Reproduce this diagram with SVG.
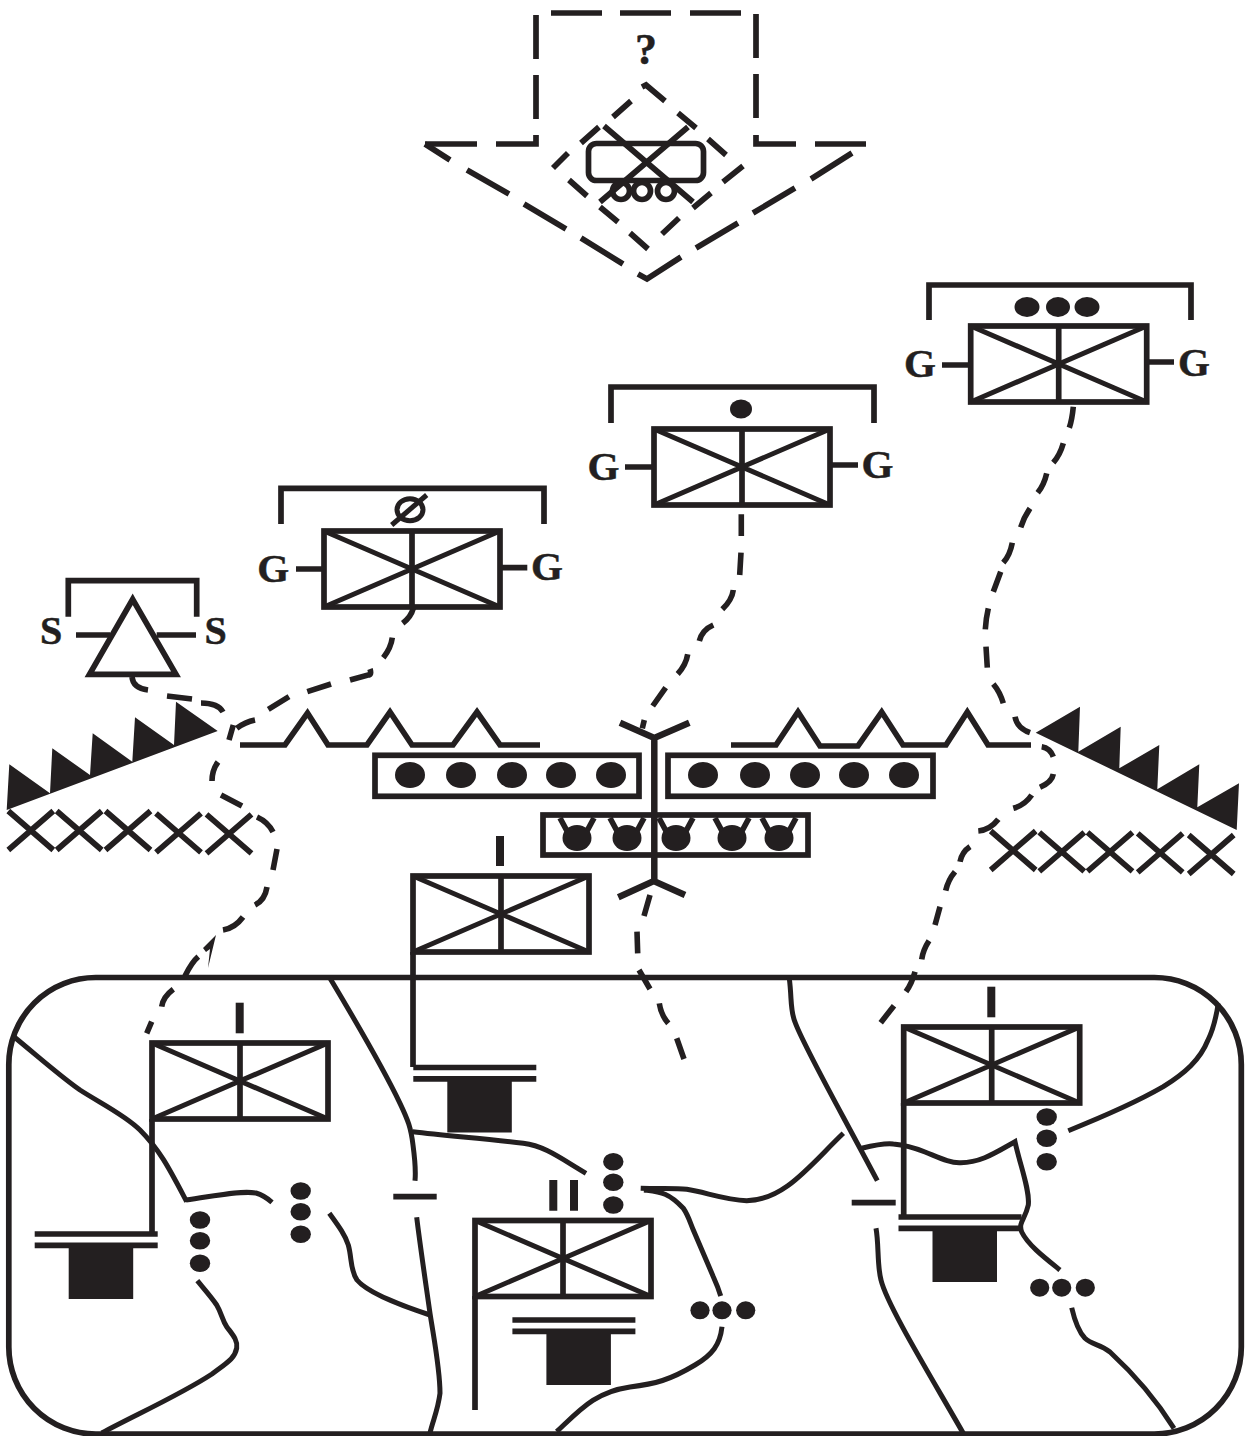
<svg xmlns="http://www.w3.org/2000/svg" width="1246" height="1436" viewBox="0 0 1246 1436">
<style>
.l{fill:none;stroke:#231f20;stroke-width:5.7}
.r{fill:none;stroke:#231f20;stroke-width:5}
.t{fill:none;stroke:#231f20;stroke-width:5}
.e{fill:none;stroke:#231f20;stroke-width:8}
.d{fill:none;stroke:#231f20;stroke-width:5.6}
.f{fill:#231f20}
.x{font-family:"Liberation Serif",serif;font-weight:700;fill:#231f20;stroke:#231f20;stroke-width:.5;text-anchor:middle}
</style>
<defs>
<g id="u"><path class="t" d="M0 0L176 76M176 0L0 76"/><path class="l" d="M88 0V76"/><rect class="l" x="0" y="0" width="176" height="76"/></g>
<g id="hq"><path class="l" d="M0 0H123M0 11.3H123"/><rect class="f" x="34" y="11" width="64.5" height="54"/></g>
<ellipse id="b" class="f" cx="0" cy="0" rx="15" ry="13"/>
<g id="cb"><ellipse class="f" cx="0" cy="4" rx="14.5" ry="13"/><path class="l" d="M-17 -16L-10 -3M17 -16L10 -3"/></g>
<path id="xx" class="l" d="M0 0L45 39M45 0L0 39"/>
<ellipse id="e" class="f" cx="0" cy="0" rx="10.2" ry="8.8"/>
<ellipse id="o" class="f" cx="0" cy="0" rx="9.6" ry="9"/>
</defs>
<g id="connectors">
<path class="d" d="M1073.3 406.700Q1072 420 1069.300 427.700M1063.300 443.300Q1060 455 1053.300 462.700M1046.700 473.300Q1044 485 1037.700 492.700M1030 508.300Q1024 517 1020.700 527.300M1012.300 542.700Q1010 555 1003.300 562.700M1000.700 571.700L993.300 591.700M988.300 608.300Q986 618 985.300 629.300M986 646.700L987.300 667.700M993.300 684Q1000 692 1003.300 703.300M1015 716.700Q1017 728 1030 732.700M1041.700 746.700Q1050 748 1053.300 756.700M1053.300 774Q1052 782 1040 787.300M1031.700 795Q1025 805 1013.300 808.300M998.300 819.300Q990 830 978.300 831M970 846.700Q962 852 960 861.700M955 871.700Q948 880 945.700 890.700M940 906.700L935 925M929 940.700Q923 950 921.700 959.300M915 971.700Q912 983 906 991.700M894 1005.700L880.700 1022.700"/>
<path class="d" d="M741.300 514.300V536M741 552.700L739.700 575M733.300 590Q732 600 722.300 609.300M713.300 625Q702 630 699.300 641M687.700 654.300Q686 665 677.700 674M665.700 687.700L652.700 706M644.300 720L642.300 728.300"/>
<path class="d" d="M413.300 608.300Q411 617 402.700 623.300M392.300 637.700Q391 648 383.300 657.700M370 669Q372 675 368 675L350 680M331 684L307.300 691.700M289 696.700L268.300 709.300M255 720Q245 722 236.700 728.300M233.300 725L229 740M218 762Q212 770 212 781M221 795L242 806M257 817Q268 822 273 832M277 849L273 870M267 887Q265 900 255 905M243 917Q235 928 223 930M198.300 956.700Q192 962 185 976M173.300 989.300Q163 997 161.700 1006.700M151.700 1021.700L146.700 1033.300"/>
<path class="f" d="M216 935L203 948L206 952L210 949L208 968Z"/>
<path class="d" d="M132 677Q133 688 148 690M167 696L192 699M201 703Q218 703 223 712"/>
<path class="d" d="M650 895L644 916M637 931.700L637.700 953.300M639 970L650 989M659.300 1003.300Q661 1015 668.300 1023.300M676.700 1038.300L684 1059"/>
</g>
<g id="target">
<path class="l" d="M551 13H602M620 13H671M690 13H741M536 15V59M536 75V119M536 135V144H496M477 144H425M756 14V58M756 74V118M756 135V144H796M815 144H866"/>
<path class="l" d="M425 144L450 160M467 170L509 194M524 204L566 229M581 238L623 264M638 274L647 279L681 257M696 248L738 223M753 213L795 188M811 179L852 153"/>
<path class="l" d="M642 87L646 85L665 101M678 113L696 128M708 139L726 155M743 166L723 182M711 193L693 208M679 218L662 234M648 249L630 233M618 222L600 207M587 196L569 180M553 168L568 153M581 143L599 127M613 117L631 101"/>
<rect class="l" x="588.500" y="143.500" width="115" height="37" rx="8"/>
<path class="l" d="M604 126L693 202M688 127L600 202"/>
<circle class="l" cx="621" cy="191" r="8.500"/><circle class="l" cx="642" cy="191" r="8.500"/><circle class="l" cx="666" cy="191" r="8.500"/>
<text class="x" x="646" y="64" font-size="44">?</text>
</g>
<g id="unit-top-right">
<path class="l" d="M929 320V285H1191V320"/><use href="#u" x="970.700" y="326"/>
<ellipse class="f" cx="1027" cy="307" rx="12.500" ry="10"/><ellipse class="f" cx="1058" cy="307" rx="12" ry="10"/><ellipse class="f" cx="1087" cy="307" rx="12.500" ry="10"/>
<path class="l" d="M942 365H970M1147 362H1174"/>
<text class="x" x="920" y="377" font-size="41">G</text><text class="x" x="1194" y="376" font-size="41">G</text>
</g>
<g id="unit-middle">
<path class="l" d="M611 423V387H874V423"/><use href="#u" x="654" y="429"/>
<ellipse class="f" cx="741" cy="409" rx="11" ry="9.500"/>
<path class="l" d="M625 467H654M830 465H858"/>
<text class="x" x="603.500" y="480" font-size="41">G</text><text class="x" x="877.500" y="478" font-size="41">G</text>
</g>
<g id="unit-left">
<path class="l" d="M281 524V488.300H544V524"/><use href="#u" x="324" y="531"/>
<ellipse class="r" cx="410" cy="509.700" rx="13" ry="11"/><path class="t" d="M391.700 525L426.700 495"/>
<path class="l" d="M296 569H322M502 567.700H527.300"/>
<text class="x" x="273.300" y="581.500" font-size="41">G</text><text class="x" x="547" y="580" font-size="41">G</text>
</g>
<g id="unit-triangle">
<path class="l" d="M68.300 616.700V580.700H196.700V616.700"/>
<path class="l" d="M132.700 599.300L176 674.300H89.500Z"/>
<path class="l" d="M76 635H110M156.700 635H196"/>
<text class="x" x="51" y="643.500" font-size="40">S</text><text class="x" x="215.500" y="643.500" font-size="40">S</text>
</g>
<g id="teeth-left">
<path class="f" d="M6.700 810L9.300 764.300L50 793.300L52.300 748.300L90 775L92.700 733.300L132.300 761.700L135 717.300L174 745L176 701.700L217.700 731Z"/>
<use href="#xx" x="8.300" y="811"/><use href="#xx" x="56.700" y="811"/><use href="#xx" x="105.500" y="811"/><use href="#xx" x="156" y="813.300"/><use href="#xx" x="206.500" y="814.300"/>
</g>
<g id="teeth-right">
<path class="f" d="M1035.700 732.700L1080 706.700L1078.300 751.700L1120.700 726.700L1119.300 768.300L1159.300 745L1157.300 789.300L1199.300 764.300L1197.300 807.300L1239 783.300L1236.700 830Z"/>
<use href="#xx" x="990.700" y="831"/><use href="#xx" x="1039.300" y="832.300"/><use href="#xx" x="1087.500" y="832.300"/><use href="#xx" x="1137.700" y="833.300"/><use href="#xx" x="1188.700" y="835"/>
</g>
<g id="wire-left"><path class="l" d="M240 745H285L307.500 713L328 745H367L390 712L412 745H453L477 712L500 745H540"/></g>
<g id="wire-right"><path class="l" d="M731 745H776L798 712L820 746H858L881.700 712L903 745H946L967.300 712L988 745H1031"/></g>
<g id="box-left"><rect class="l" x="375" y="755.300" width="264" height="41"/>
<use href="#b" x="410" y="775"/><use href="#b" x="461" y="775"/><use href="#b" x="512" y="775"/><use href="#b" x="561" y="775"/><use href="#b" x="611" y="775"/></g>
<g id="box-right"><rect class="l" x="668" y="755.300" width="265" height="41"/>
<use href="#b" x="703" y="775"/><use href="#b" x="755" y="775"/><use href="#b" x="805" y="775"/><use href="#b" x="854" y="775"/><use href="#b" x="904" y="775"/></g>
<g id="box-center"><rect class="l" x="543" y="815" width="265" height="40"/>
<use href="#cb" x="577" y="834"/><use href="#cb" x="627" y="834"/><use href="#cb" x="676" y="834"/><use href="#cb" x="732" y="834"/><use href="#cb" x="779" y="834"/></g>
<g id="axis"><path class="l" d="M620 722.700L654.300 738L689.300 722.700M654.300 738V881M618.300 897.300L653.800 881L685 895" style="stroke-width:6.500"/></g>
<g id="unit-center"><use href="#u" x="413" y="876"/><path class="e" d="M500 836V866"/><path class="l" d="M413 952V1067"/><use href="#hq" x="413.300" y="1067.500"/></g>
<g id="terrain">
<rect class="l" x="8.800" y="977.500" width="1232.500" height="456.500" rx="87"/>
<path class="r" d="M12.700 1035.700C40 1058 60 1076 80 1090C100 1103 125 1115 140 1130C160 1150 170 1170 186.700 1201.700M186 1200C210 1197 240 1190 256 1193C263 1195 267 1198 272 1202.300"/>
<path class="r" d="M329.300 1213.300C340 1228 345 1235 348.300 1245C352 1258 350 1270 357 1280C368 1293 405 1307 430 1315"/>
<path class="r" d="M197.300 1280.700C205 1290 212 1298 216.700 1305C222 1314 222 1320 226.700 1326.700C232 1334 238 1340 236.700 1348C235 1358 228 1362 212 1374C180 1395 135 1415 101.700 1433"/>
<path class="r" d="M330 978.300C355 1020 385 1072 400 1103.300C408 1120 411 1128 413 1145C415 1160 416 1170 415 1180.700M416.700 1217.300C420 1245 426 1285 430 1313.300C435 1345 440 1370 440 1393.300C438 1410 433 1420 430 1433"/>
<path class="r" d="M412.700 1131.700C450 1136 490 1139 523.300 1143.300C545 1146 560 1158 586 1173.300"/>
<path class="r" d="M640.700 1188.300C660 1189 675 1188 686.700 1189.300C705 1192 725 1200 746.700 1200.700C785 1200 810 1165 843.300 1133.300"/>
<path class="r" d="M644 1190C660 1192 668 1192 683.300 1208.300C688 1215 690 1222 693.300 1230L713.300 1276.700Q718 1287 720.700 1296"/>
<path class="r" d="M722 1326.700C720 1345 712 1355 695 1365C670 1380 655 1384 630 1387C595 1392 580 1410 556.700 1431.700"/>
<path class="r" d="M789.300 978.300C792 1000 790 1010 795 1022C803 1045 840 1110 877.300 1180.700M876 1228.300C879 1245 877 1265 881 1280C887 1305 930 1375 963.300 1433.300"/>
<path class="r" d="M861.700 1148.300C875 1145 885 1143 893.300 1144C905 1145 915 1148 925 1152C940 1158 950 1163 960 1162.700C980 1163 995 1153 1015 1141.700C1020 1165 1030 1190 1028.300 1205C1025 1220 1018 1222 1021.700 1232C1028 1245 1045 1258 1060 1270"/>
<path class="r" d="M1071.700 1307.700C1075 1322 1080 1333 1085 1338.300C1092 1345 1100 1344 1110 1352C1135 1375 1155 1398 1174 1428.300"/>
<path class="r" d="M1068.300 1130.700C1100 1118 1135 1103 1163.300 1086.700C1185 1073 1200 1060 1208 1040C1214 1028 1216 1018 1218.300 1003.300"/>
<path class="l" d="M393.300 1196.700H436.700M851.700 1202.700H895.700"/>
<use href="#e" x="200" y="1220"/><use href="#e" x="200" y="1240.700"/><use href="#e" x="200" y="1263.300"/>
<use href="#e" x="300.700" y="1191"/><use href="#e" x="300.700" y="1211.700"/><use href="#e" x="300.700" y="1234.300"/>
<use href="#e" x="613.300" y="1161.700"/><use href="#e" x="613.300" y="1182.300"/><use href="#e" x="613.300" y="1205"/>
<use href="#e" x="1046.700" y="1117"/><use href="#e" x="1046.700" y="1138.300"/><use href="#e" x="1046.700" y="1161.700"/>
<use href="#o" x="700" y="1310.300"/><use href="#o" x="722" y="1310.300"/><use href="#o" x="745.700" y="1310.300"/>
<use href="#o" x="1039.700" y="1287.700"/><use href="#o" x="1061.700" y="1287.700"/><use href="#o" x="1085.300" y="1287.700"/>
</g>
<g id="unit-sw"><use href="#u" x="152" y="1043"/><path class="e" d="M239.700 1002.700V1033.300"/><path class="l" d="M152 1119V1234"/><use href="#hq" x="34.700" y="1234"/></g>
<g id="unit-se"><use href="#u" x="903.700" y="1027"/><path class="e" d="M991.300 986.700V1017.300"/><path class="l" d="M903.700 1103V1217"/><use href="#hq" x="898.500" y="1217"/></g>
<g id="unit-s"><use href="#u" x="475" y="1220.500"/><path class="e" d="M553.300 1180V1210.700M574 1180V1210.700"/><path class="l" d="M475 1296V1410"/><use href="#hq" x="512.400" y="1320"/></g>
</svg>
